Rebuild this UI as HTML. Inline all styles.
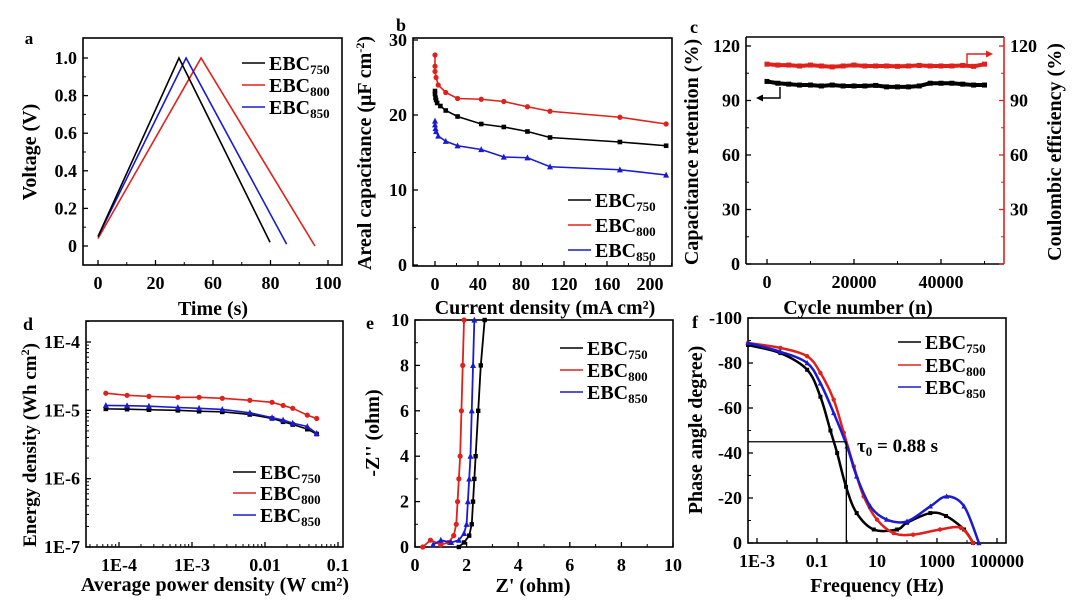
<!DOCTYPE html>
<html><head><meta charset="utf-8"><style>
html,body{margin:0;padding:0;background:#fff;}
svg{display:block;font-family:"Liberation Serif",serif;font-weight:bold;}
</style></head><body>
<svg id="fig" width="1080" height="605" viewBox="0 0 1080 605" xmlns="http://www.w3.org/2000/svg"></svg>
<script>
// ---- Panel a data (x in axis units, labels are quirky) ----
const aTickVals=[0,25,50,75,100];
const aTickLabels=["0","20","60","80","100"];
const aYTicks=[0,0.2,0.4,0.6,0.8,1.0];
const aYLabels=["0","0.2","0.4","0.6","0.8","1.0"];
const a750x=[0,35.2,74.8], a750y=[0.05,1.0,0.02];
const a800x=[0,44.8,94.3], a800y=[0.04,1.0,0.0];
const a850x=[0,38.3,82], a850y=[0.05,1.0,0.01];
// ---- Panel b ----
const bXTicks=[0,40,80,120,160,200];
const bYTicks=[0,10,20,30];
const b750x=[0,0,0.5,1,2,5,10,21,43,64,86,107,172,215];
const b750y=[23.2,22.8,22.3,22,21.6,21.2,20.6,19.8,18.8,18.4,17.8,17,16.4,15.9];
const b800x=[0,0,0,1,3,10,21,43,64,86,107,172,215];
const b800y=[28,26.5,25.8,25,24,23,22.2,22.1,21.8,21.1,20.5,19.7,18.8];
const b850x=[0,0,0.5,1,3,10,21,43,64,86,107,172,215];
const b850y=[19.2,18.7,18.2,17.8,17.2,16.5,15.9,15.4,14.4,14.3,13.1,12.7,12];
// ---- Panel c ----
const cXTicks=[0,20000,40000];
const cYTicks=[0,30,60,90,120];
const cCycles=[0,2500,5000,7500,10000,12500,15000,17500,20000,22500,25000,27500,30000,32500,35000,37500,40000,42500,45000,47500,50000];
const cRetention=[100.5,99.5,99,98.5,98.5,98,98.5,98,98,98,98.3,97.5,97.5,97.5,98,99.5,99.5,99.5,99,98.5,98.5];
const cEfficiency=[110,109.5,109.5,109,109.5,109,108.5,109,109.5,109,109,109,108.8,109,109.3,109,109,109,109.3,108.8,110];
// ---- Panel d ----
const dXTicks=[1e-4,1e-3,0.01,0.1];
const dXLabels=["1E-4","1E-3","0.01","0.1"];
const dYTicks=[1e-7,1e-6,1e-5,1e-4];
const dYLabels=["1E-7","1E-6","1E-5","1E-4"];
const dPower=[6.6e-5,1.29e-4,2.57e-4,6.4e-4,1.25e-3,2.6e-3,6.2e-3,0.0125,0.0177,0.024,0.038,0.051];
const d750=[1.05e-5,1.04e-5,1.02e-5,1.0e-5,9.7e-6,9.5e-6,8.7e-6,7.6e-6,6.8e-6,6.2e-6,5.3e-6,4.5e-6];
const d800=[1.78e-5,1.66e-5,1.6e-5,1.55e-5,1.55e-5,1.5e-5,1.4e-5,1.31e-5,1.18e-5,1.07e-5,8.5e-6,7.6e-6];
const d850=[1.18e-5,1.17e-5,1.15e-5,1.1e-5,1.07e-5,1.03e-5,9.2e-6,7.8e-6,7.2e-6,6.5e-6,5.8e-6,4.6e-6];
// ---- Panel e ----
const eXTicks=[0,2,4,6,8,10];
const eYTicks=[0,2,4,6,8,10];
const e750x=[1.7,1.9,2.1,2.2,2.25,2.3,2.35,2.45,2.55,2.7];
const e750y=[0,0.2,0.5,1,2,3,4,6,8,10];
const e800x=[0.3,0.6,1.0,1.3,1.5,1.6,1.65,1.7,1.75,1.8,1.85,1.9];
const e800y=[0,0.3,0.1,0.2,0.5,1,2,3,4,6,8,10];
const e850x=[0.7,1.0,1.4,1.7,1.9,2.0,2.05,2.1,2.15,2.2,2.25,2.3];
const e850y=[0.1,0.3,0.2,0.3,0.6,1,2,3,4,6,8,10];
// ---- Panel f ----
const fXTicks=[1e-3,0.1,10,1000,100000];
const fXLabels=["1E-3","0.1","10","1000","100000"];
const fYTicks=[0,-20,-40,-60,-80,-100];
const f750x=[5e-4,6e-3,0.047,0.13,0.28,0.47,0.93,2.1,7.8,47,100,600,2000,8000,16000];
const f750y=[-88,-84.4,-77,-65,-50,-40,-25,-13.3,-6,-6,-9,-13.3,-12,-6,0];
const f800x=[5e-4,6e-3,0.047,0.13,0.36,0.78,1.7,3.6,10,36,160,1260,6300,16000];
const f800y=[-88.9,-86.7,-83,-75.6,-63.7,-49,-34,-20.7,-10.4,-4.4,-3.7,-6,-6.7,0];
const f850x=[5e-4,6e-3,0.047,0.13,0.36,1,2.1,6,21,100,600,2100,8000,25000];
const f850y=[-88.9,-85,-80,-71,-57.8,-43,-29.6,-16.3,-10.4,-9.6,-16.3,-20.7,-16.3,0];
const fTau=0.95, fTauPhase=-45;

const NS='http://www.w3.org/2000/svg';
const svg=document.getElementById('fig');
const RED='#e0201b', BLUE='#1a1ad0', BLACK='#000';
function mk(tag,attrs,parent,name){
  const e=document.createElementNS(NS,tag);
  for(const k in attrs) e.setAttribute(k,attrs[k]);
  
  
  parent.appendChild(e);
  return e;
}
function lin(d0,d1,r0,r1){return v=>r0+(v-d0)/(d1-d0)*(r1-r0);}
function lg(d0,d1,r0,r1){const a=Math.log10(d0),b=Math.log10(d1);return v=>r0+(Math.log10(v)-a)/(b-a)*(r1-r0);}
function txt(p,x,y,s,size,anchor,name,rot,fill){
  const t=mk('text',{x:x,y:y,'font-size':size,'text-anchor':anchor||'middle',fill:fill||'#000'},p,name);
  if(rot) t.setAttribute('transform','rotate(-90 '+x+' '+y+')');
  t.textContent=s;return t;
}
function frame(g,b,name){mk('rect',{x:b[0],y:b[1],width:b[2]-b[0],height:b[3]-b[1],fill:'none',stroke:'#000','stroke-width':1.6},g,name);}
function xTicks(g,b,sx,vals,labels,minors){
  vals.forEach((v,i)=>{const x=sx(v);
    mk('line',{x1:x,x2:x,y1:b[3],y2:b[3]-5,stroke:'#000','stroke-width':1.3},g,'x-tick');
    txt(g,x,b[3]+24,labels[i],18,'middle','x-tick-label');});
  (minors||[]).forEach(v=>{const x=sx(v);if(x>b[0]&&x<b[2])mk('line',{x1:x,x2:x,y1:b[3],y2:b[3]-3,stroke:'#000','stroke-width':1},g,'x-minor-tick');});
}
function yTicks(g,b,sy,vals,labels,minors,right,col){
  const xe=right?b[2]:b[0], d=right?-5:5;
  vals.forEach((v,i)=>{const y=sy(v);
    mk('line',{x1:xe,x2:xe+d,y1:y,y2:y,stroke:col||'#000','stroke-width':1.3},g,'y-tick');
    if(labels[i]!==null) txt(g,right?xe+6:xe-6,y+6,labels[i],18,right?'start':'end','y-tick-label');});
  (minors||[]).forEach(v=>{const y=sy(v);if(y>b[1]&&y<b[3])mk('line',{x1:xe,x2:xe+d*0.6,y1:y,y2:y,stroke:col||'#000','stroke-width':1},g,'y-minor-tick');});
}
function line(g,sx,sy,xs,ys,col,name,w){
  mk('polyline',{points:xs.map((x,i)=>sx(x)+','+sy(ys[i])).join(' '),fill:'none',stroke:col,'stroke-width':w||1.6},g,name);
}
function smooth(g,sx,sy,xs,ys,col,name,w){
  const P=xs.map((x,i)=>[sx(x),sy(ys[i])]);let d='M'+P[0][0]+','+P[0][1];
  for(let i=0;i<P.length-1;i++){const p0=P[Math.max(0,i-1)],p1=P[i],p2=P[i+1],p3=P[Math.min(P.length-1,i+2)];
    d+=' C'+(p1[0]+(p2[0]-p0[0])/6)+','+(p1[1]+(p2[1]-p0[1])/6)+' '+(p2[0]-(p3[0]-p1[0])/6)+','+(p2[1]-(p3[1]-p1[1])/6)+' '+p2[0]+','+p2[1];}
  mk('path',{d:d,fill:'none',stroke:col,'stroke-width':w||2.5},g,name);
}
function markers(g,sx,sy,xs,ys,col,type,name,s){
  s=s||2.6;
  xs.forEach((x,i)=>{const X=sx(x),Y=sy(ys[i]);
    if(type==='sq') mk('rect',{x:X-s,y:Y-s,width:2*s,height:2*s,fill:col},g,name);
    else if(type==='ci') mk('circle',{cx:X,cy:Y,r:s,fill:col},g,name);
    else mk('polygon',{points:(X)+','+(Y-s-0.8)+' '+(X-s-0.4)+','+(Y+s)+' '+(X+s+0.4)+','+(Y+s),fill:col},g,name);});
}
function legend(g,x,ys,name){
  const cols=[BLACK,RED,BLUE],subs=['750','800','850'];
  ys.forEach((y,i)=>{
    const e=mk('g',{},g,'legend-entry-'+subs[i]);
    mk('line',{x1:x,x2:x+23,y1:y,y2:y,stroke:cols[i],'stroke-width':1.6},e,'legend-swatch');
    const t=mk('text',{x:x+27,y:y+7,'font-size':20},e,'legend-label');
    t.appendChild(document.createTextNode('EBC'));
    const s=mk('tspan',{'font-size':13,dy:4},t,'legend-subscript');s.textContent=subs[i];
  });
}
function minorsLin(a,b,st){const r=[];for(let v=a;v<=b+1e-9;v+=st)r.push(v);return r;}
function minorsLog(a,b){const r=[];for(let e=a;e<b;e++)for(let k=2;k<10;k++)r.push(k*Math.pow(10,e));return r;}

// ===== Panel a =====
(function(){
  const g=mk('g',{},svg,'panel-a');const b=[83,38,342,265];
  const sx=lin(0,100,98,328), sy=lin(0,1,246,58);
  frame(g,b,'plot-frame');
  xTicks(g,b,sx,aTickVals,aTickLabels,[12.5,37.5,62.5,87.5]);
  yTicks(g,b,sy,aYTicks,aYLabels,minorsLin(0.1,0.9,0.2));
  line(g,sx,sy,a800x,a800y,RED,'series-ebc800');
  line(g,sx,sy,a850x,a850y,BLUE,'series-ebc850');
  line(g,sx,sy,a750x,a750y,BLACK,'series-ebc750');
  legend(g,242,[63,85,107]);
  txt(g,29,44,'a',17,'middle','panel-label');
  txt(g,213,315,'Time (s)',20,'middle','x-axis-title');
  txt(g,36,152,'Voltage (V)',20,'middle','y-axis-title',true);
})();
// ===== Panel b =====
(function(){
  const g=mk('g',{},svg,'panel-b');const b=[413,38,672,266];
  const sx=lin(0,200,435,650), sy=lin(0,30,265,40);
  frame(g,b,'plot-frame');
  xTicks(g,b,sx,bXTicks,bXTicks.map(String),minorsLin(20,220,40));
  yTicks(g,b,sy,bYTicks,bYTicks.map(String),[5,15,25]);
  line(g,sx,sy,b800x,b800y,RED,'series-ebc800');markers(g,sx,sy,b800x,b800y,RED,'ci','marker-ebc800');
  line(g,sx,sy,b750x,b750y,BLACK,'series-ebc750');markers(g,sx,sy,b750x,b750y,BLACK,'sq','marker-ebc750',2.3);
  line(g,sx,sy,b850x,b850y,BLUE,'series-ebc850');markers(g,sx,sy,b850x,b850y,BLUE,'tri','marker-ebc850');
  legend(g,568,[200,225,250]);
  txt(g,401,31,'b',18,'middle','panel-label');
  txt(g,545,314,'Current density (mA cm²)',20,'middle','x-axis-title');
  const t=txt(g,371,153,'Areal capacitance (μF cm',20,'middle','y-axis-title',true);
  const s=mk('tspan',{'font-size':12,dy:-7},t,'y-axis-title-superscript');s.textContent='-2';
  const s2=mk('tspan',{dy:7},t,'y-axis-title-end');s2.textContent=')';
})();
// ===== Panel c =====
(function(){
  const g=mk('g',{},svg,'panel-c');const b=[746,37,1004,264];
  const sx=lin(0,40000,767,941), sy=lin(0,120,264,46);
  mk('line',{x1:b[0],x2:b[2],y1:b[3],y2:b[3],stroke:'#000','stroke-width':1.6},g,'x-axis-line');
  mk('line',{x1:b[0],x2:b[2],y1:b[1],y2:b[1],stroke:'#000','stroke-width':1.6},g,'top-axis-line');
  mk('line',{x1:b[0],x2:b[0],y1:b[1],y2:b[3],stroke:'#000','stroke-width':1.6},g,'left-axis-line');
  mk('line',{x1:b[2],x2:b[2],y1:b[1],y2:b[3],stroke:RED,'stroke-width':1.6},g,'right-axis-line');
  xTicks(g,b,sx,cXTicks,cXTicks.map(String),[10000,30000,50000]);
  yTicks(g,b,sy,cYTicks,cYTicks.map(String),[15,45,75,105]);
  yTicks(g,b,sy,cYTicks,[null,'30','60','90','120'],[15,45,75,105],true,RED);
  line(g,sx,sy,cCycles,cEfficiency,RED,'series-coulombic-efficiency',4);
  markers(g,sx,sy,cCycles,cEfficiency,RED,'sq','marker-efficiency',2.5);
  line(g,sx,sy,cCycles,cRetention,BLACK,'series-capacitance-retention',4);
  markers(g,sx,sy,cCycles,cRetention,BLACK,'sq','marker-retention',2.5);
  mk('polyline',{points:'780,87 780,98 762,98',fill:'none',stroke:'#000','stroke-width':1.4},g,'retention-axis-arrow');
  mk('polygon',{points:'756,98 763,94.5 763,101.5',fill:'#000'},g,'retention-arrowhead');
  mk('polyline',{points:'967,65 967,54 986,54',fill:'none',stroke:RED,'stroke-width':1.4},g,'efficiency-axis-arrow');
  mk('polygon',{points:'993,54 986,50.5 986,57.5',fill:RED},g,'efficiency-arrowhead');
  txt(g,694,33,'c',18,'middle','panel-label');
  txt(g,858,314,'Cycle number (n)',20,'middle','x-axis-title');
  txt(g,698,152,'Capacitance retention (%)',20,'middle','y-axis-title',true);
  txt(g,1061,152,'Coulombic efficiency (%)',20,'middle','y2-axis-title',true);
})();
// ===== Panel d =====
(function(){
  const g=mk('g',{},svg,'panel-d');const b=[86,321,343,547];
  const sx=lg(1e-4,0.1,119,338), sy=lg(1e-7,1e-4,547,342);
  frame(g,b,'plot-frame');
  xTicks(g,b,sx,dXTicks,dXLabels,minorsLog(-5,-1));
  yTicks(g,b,sy,dYTicks,dYLabels,minorsLog(-7,-3));
  line(g,sx,sy,dPower,d800,RED,'series-ebc800');markers(g,sx,sy,dPower,d800,RED,'ci','marker-ebc800');
  line(g,sx,sy,dPower,d750,BLACK,'series-ebc750');markers(g,sx,sy,dPower,d750,BLACK,'sq','marker-ebc750',2.3);
  line(g,sx,sy,dPower,d850,BLUE,'series-ebc850');markers(g,sx,sy,dPower,d850,BLUE,'tri','marker-ebc850');
  legend(g,233,[472,493,515]);
  txt(g,28,330,'d',18,'middle','panel-label');
  txt(g,215,591,'Average power density (W  cm²)',20,'middle','x-axis-title');
  const t=txt(g,36,445,'Energy density (Wh cm',19,'middle','y-axis-title',true);
  const s=mk('tspan',{'font-size':12,dy:-7},t,'y-axis-title-superscript');s.textContent='2';
  const s2=mk('tspan',{dy:7},t,'y-axis-title-end');s2.textContent=')';
})();
// ===== Panel e =====
(function(){
  const g=mk('g',{},svg,'panel-e');const b=[415,320,673,547];
  const sx=lin(0,10,415,673), sy=lin(0,10,547,320);
  frame(g,b,'plot-frame');
  xTicks(g,b,sx,eXTicks,eXTicks.map(String),minorsLin(1,9,2));
  yTicks(g,b,sy,eYTicks,eYTicks.map(String),minorsLin(1,9,2));
  line(g,sx,sy,e750x,e750y,BLACK,'series-ebc750',1.8);markers(g,sx,sy,e750x,e750y,BLACK,'sq','marker-ebc750',2.2);
  line(g,sx,sy,e800x,e800y,RED,'series-ebc800',1.8);markers(g,sx,sy,e800x,e800y,RED,'ci','marker-ebc800');
  line(g,sx,sy,e850x,e850y,BLUE,'series-ebc850',1.8);markers(g,sx,sy,e850x,e850y,BLUE,'tri','marker-ebc850');
  legend(g,560,[348,370,392]);
  txt(g,370,329,'e',18,'middle','panel-label');
  txt(g,533,592,"Z' (ohm)",20,'middle','x-axis-title');
  txt(g,379,433,"-Z'' (ohm)",20,'middle','y-axis-title',true);
})();
// ===== Panel f =====
(function(){
  const g=mk('g',{},svg,'panel-f');const b=[748,318,1006,543];
  const sx=lg(1e-3,1e5,757,997), sy=lin(0,-100,543,318);
  frame(g,b,'plot-frame');
  xTicks(g,b,sx,fXTicks,fXLabels,[0.01,1,100,10000]);
  yTicks(g,b,sy,fYTicks,fYTicks.map(String),[-10,-30,-50,-70,-90]);
  smooth(g,sx,sy,f750x,f750y,BLACK,'series-ebc750');markers(g,sx,sy,f750x,f750y,BLACK,'sq','marker-ebc750',2);
  smooth(g,sx,sy,f800x,f800y,RED,'series-ebc800');markers(g,sx,sy,f800x,f800y,RED,'ci','marker-ebc800',2.2);
  smooth(g,sx,sy,f850x,f850y,BLUE,'series-ebc850');markers(g,sx,sy,f850x,f850y,BLUE,'tri','marker-ebc850',2.2);
  mk('line',{x1:b[0],x2:sx(fTau),y1:sy(fTauPhase),y2:sy(fTauPhase),stroke:'#000','stroke-width':1.3},g,'tau-horizontal-guide');
  mk('line',{x1:sx(fTau),x2:sx(fTau),y1:sy(fTauPhase),y2:b[3],stroke:'#000','stroke-width':1.3},g,'tau-vertical-guide');
  const t=txt(g,857,452,'τ',19,'start','tau-annotation');
  const s=mk('tspan',{'font-size':13,dy:4},t,'tau-subscript');s.textContent='0';
  const s2=mk('tspan',{dy:-4},t,'tau-value');s2.textContent=' = 0.88 s';
  legend(g,898,[342,365,387]);
  txt(g,695,328,'f',18,'middle','panel-label');
  txt(g,877,592,'Frequency (Hz)',20,'middle','x-axis-title');
  txt(g,702,430,'Phase angle degree)',20,'middle','y-axis-title',true);
})();
</script>
</body></html>
